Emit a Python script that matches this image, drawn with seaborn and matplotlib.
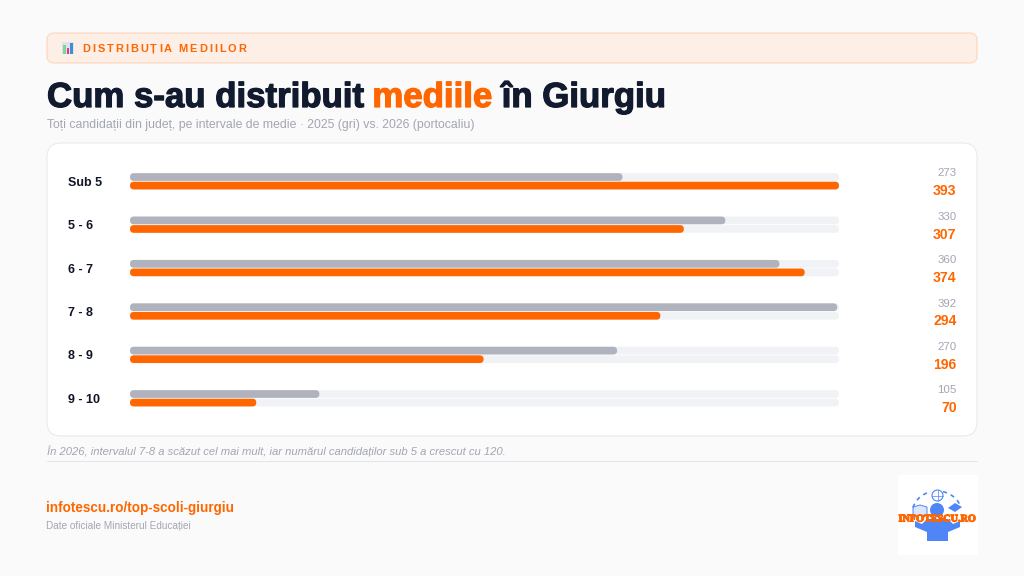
import pandas as pd
import numpy as np
import matplotlib
matplotlib.use('Agg')
import matplotlib.pyplot as plt
import matplotlib.patheffects as pe
from matplotlib.patches import FancyBboxPatch, Rectangle, Circle, Polygon, Arc
from matplotlib.transforms import IdentityTransform
import seaborn as sns

sns.set_theme(style='white')
plt.rcParams['font.family'] = ['Liberation Sans', 'DejaVu Sans']

# Data
intervals = ['Sub 5', '5 - 6', '6 - 7', '7 - 8', '8 - 9', '9 - 10']
values_2025 = [273, 330, 360, 392, 270, 105]
values_2026 = [393, 307, 374, 294, 196, 70]
track_max = [393, 393, 393, 393, 393, 393]

ORANGE = '#ff6600'
GREY = '#b0b2bd'
TRACK = '#f1f2f6'
NAVY = '#111a2e'
MUTED = '#a3a6b3'
BG = '#fafafa'
LOGO = '#4f86f7'

df = pd.DataFrame({
    'interval': intervals * 2,
    'year': ['2025'] * 6 + ['2026'] * 6,
    'value': values_2025 + values_2026,
})
df_track = pd.DataFrame({
    'interval': intervals * 2,
    'year': ['2025'] * 6 + ['2026'] * 6,
    'value': track_max * 2,
})

W, H = 1024, 576
fig = plt.figure(figsize=(W / 100, H / 100), dpi=100, facecolor=BG)

# page layer in pixel coordinates
page = fig.add_axes([0, 0, 1, 1], zorder=1)
page.set_xlim(0, W)
page.set_ylim(H, 0)
page.axis('off')


def px(s):
    return s * 0.72


def box(x0, y0, x1, y1, r, fc, ec, lw=0.72, ax=page):
    p = FancyBboxPatch((x0 + r, y0 + r), x1 - x0 - 2 * r, y1 - y0 - 2 * r,
                       boxstyle='round,pad=%f,rounding_size=%f' % (r, r),
                       fc=fc, ec=ec, lw=lw)
    ax.add_patch(p)
    return p


renderer = fig.canvas.get_renderer()


def advance(s, **kw):
    # width of a string with trailing spaces counted
    t = page.text(0, 0, s + '|', **kw)
    a = t.get_window_extent(renderer).width
    t.set_text('|')
    b = t.get_window_extent(renderer).width
    t.remove()
    return a - b


# banner
box(47, 33, 977, 63, 7, '#fdeee6', '#fdd2b6')
page.add_patch(Rectangle((62, 41.5), 12, 12, fc='#dfe2ea', ec='none'))
page.add_patch(Rectangle((63, 45), 2.5, 8.5, fc='#78d79b', ec='none'))
page.add_patch(Rectangle((66.5, 48), 2.5, 5.5, fc='#e23a80', ec='none'))
page.add_patch(Rectangle((70, 42.5), 3, 11, fc='#3d8fd8', ec='none'))

banner = 'DISTRIBUȚIA MEDIILOR'
banner_kw = dict(fontsize=px(11), fontweight='bold')
for i, ch in enumerate(banner):
    page.text(82.5 + advance(banner[:i], **banner_kw) + i * 1.95, 51.5, ch,
              color=ORANGE, va='baseline', ha='left', **banner_kw)

# title, three colours on one line
title_parts = [('Cum s-au distribuit ', NAVY), ('mediile', ORANGE), (' în Giurgiu', NAVY)]
title_kw = dict(fontsize=px(34.8), fontweight='bold')
done = ''
for part, col in title_parts:
    page.text(47 + advance(done, **title_kw), 107, part, color=col, va='baseline', ha='left',
              path_effects=[pe.withStroke(linewidth=0.9, foreground=col)], **title_kw)
    done += part

page.text(47, 128, 'Toți candidații din județ, pe intervale de medie · 2025 (gri) vs. 2026 (portocaliu)',
          color=MUTED, fontsize=px(12.28), va='baseline')

# card
box(47, 143, 977, 436, 14, 'white', '#e9e9ed')

page.text(47, 455, 'În 2026, intervalul 7-8 a scăzut cel mai mult, iar numărul candidaților sub 5 a crescut cu 120.',
          color=MUTED, fontsize=px(11.2), style='italic', va='baseline')
page.plot([47, 977], [460.5, 460.5], color='#e4e4e8', lw=0.72)

# footer
page.text(46, 512, 'infotescu.ro/top-scoli-giurgiu', color=ORANGE, fontsize=px(13.5),
          fontweight='bold', va='baseline')
page.text(46, 529, 'Date oficiale Ministerul Educației', color=MUTED, fontsize=px(10), va='baseline')

# logo
page.add_patch(Rectangle((898, 475), 80, 80, fc='white', ec='none'))
page.add_patch(Circle((937, 510), 7, fc=LOGO, ec='none'))
page.add_patch(Polygon([(927, 519), (948, 519), (953, 524), (960, 521), (960, 527), (948, 532), (948, 541),
                        (927, 541), (927, 532), (915, 527), (915, 521), (922, 524)], fc=LOGO, ec='none'))
page.add_patch(Circle((937.5, 495.5), 5.5, fc='white', ec=LOGO, lw=0.8))
page.plot([932, 943], [495.5, 495.5], color=LOGO, lw=0.5)
page.plot([937.5, 937.5], [490, 501], color=LOGO, lw=0.5)
page.add_patch(Polygon([(913, 507), (920, 505), (927, 507), (927, 516), (920, 515), (913, 517)],
                       fc='#dbe6fd', ec=LOGO, lw=0.7))
page.add_patch(Polygon([(948, 508), (955, 503), (962, 507), (955, 512)], fc=LOGO, ec='none'))
page.add_patch(Arc((937, 514), 50, 46, theta1=195, theta2=255, ec=LOGO, lw=1.2, ls=(0, (2.5, 2.5))))
page.add_patch(Arc((937, 514), 50, 46, theta1=285, theta2=345, ec=LOGO, lw=1.2, ls=(0, (2.5, 2.5))))
page.text(937.5, 519, 'INFOTESCU.RO', color=ORANGE, fontsize=px(10.2), fontweight='bold',
          family=['Liberation Serif'], ha='center', va='center',
          path_effects=[pe.withStroke(linewidth=0.8, foreground=ORANGE)])

# chart: 6 rows 43.4 px apart, x scale 130-839 px
ax_top = 159.6
ax_h = 260.4
ax = fig.add_axes([130 / W, 1 - (ax_top + ax_h) / H, 709 / W, ax_h / H], zorder=2)
ax.patch.set_alpha(0)

sns.barplot(data=df_track, y='interval', x='value', hue='year', palette=[TRACK, TRACK],
            width=0.395, gap=0.1, legend=False, ax=ax, errorbar=None, saturation=1)
sns.barplot(data=df, y='interval', x='value', hue='year', palette=[GREY, ORANGE],
            width=0.395, gap=0.1, legend=False, ax=ax, errorbar=None, saturation=1)

ax.set_xlim(0, 393)
ax.set_ylim(5.5, -0.5)
ax.set_xlabel('')
ax.set_ylabel('')
ax.set_xticks([])
sns.despine(ax=ax, left=True, bottom=True)
ax.tick_params(axis='y', length=0, pad=px(62))
for lab in ax.get_yticklabels():
    lab.set_ha('left')
    lab.set_fontsize(px(12.5))
    lab.set_fontweight('bold')
    lab.set_color('#0f1526')

# round the bars, same geometry in pixels
fig.canvas.draw()
for patch in list(ax.patches):
    bb = patch.get_window_extent(renderer)
    if bb.width <= 0:
        continue
    r = min(bb.height / 2, bb.width / 2)
    rounded = FancyBboxPatch((bb.x0 + r, bb.y0 + r), bb.width - 2 * r, bb.height - 2 * r,
                             boxstyle='round,pad=%f,rounding_size=%f' % (r, r),
                             fc=patch.get_facecolor(), ec='none',
                             transform=IdentityTransform(), clip_on=False,
                             zorder=patch.get_zorder())
    patch.set_visible(False)
    ax.add_artist(rounded)

# value labels on the right
tr = ax.get_yaxis_transform()
lab_x = (956.5 - 130) / 709
for i, (a, b) in enumerate(zip(values_2025, values_2026)):
    ax.text(lab_x, i - 0.18, str(a), transform=tr, ha='right', va='center', color=MUTED,
            fontsize=px(11.5), clip_on=False)
    ax.text(lab_x, i + 0.228, str(b), transform=tr, ha='right', va='center', color=ORANGE,
            fontsize=px(14), fontweight='bold', clip_on=False)

fig.savefig('out.png', dpi=100, facecolor=BG)
